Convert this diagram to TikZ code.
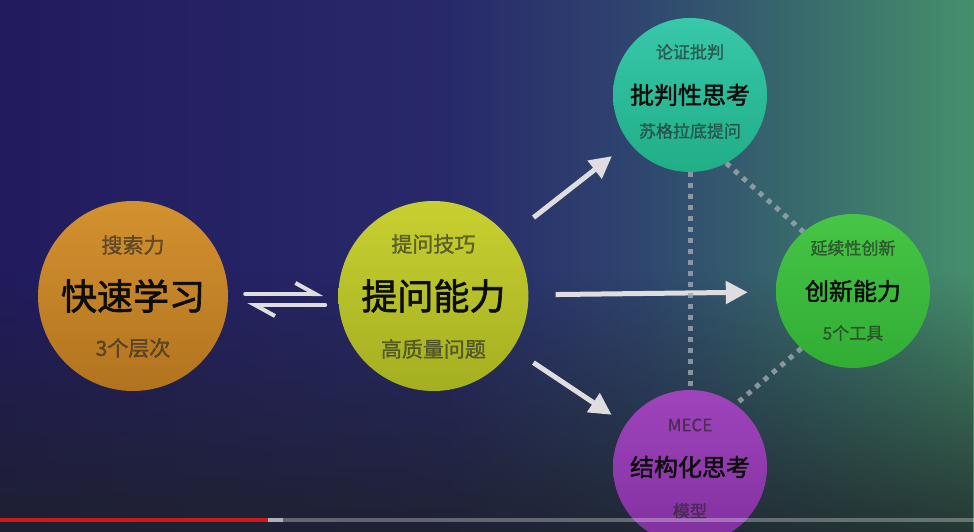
\documentclass[tikz,border=0pt]{standalone}
\usepackage{fontspec}
\setmainfont{Noto Sans CJK SC}
\newfontfamily\headfont{Noto Sans CJK SC}[FakeBold=1.8]
\newfontfamily\capfont{Noto Sans CJK SC}[FakeBold=1.3]
\usetikzlibrary{arrows.meta,positioning,fadings}
\definecolor{bgA}{HTML}{221B5E}
\definecolor{bgB}{HTML}{28296A}
\definecolor{bgC}{HTML}{2F466F}
\definecolor{bgD}{HTML}{386A6C}
\definecolor{bgE}{HTML}{46906C}
\definecolor{bgsink}{HTML}{1D2126}
\definecolor{arrowwhite}{HTML}{DEDEE0}
\definecolor{dotgrey}{HTML}{A0A8B0}
\definecolor{orangeT}{HTML}{D3922F}
\definecolor{orangeB}{HTML}{B2731F}
\definecolor{limeT}{HTML}{C8D030}
\definecolor{limeB}{HTML}{A4AF21}
\definecolor{tealT}{HTML}{38C8AA}
\definecolor{tealB}{HTML}{20AE87}
\definecolor{greenT}{HTML}{46C546}
\definecolor{greenB}{HTML}{31AD34}
\definecolor{purpleT}{HTML}{A044BC}
\definecolor{purpleB}{HTML}{80309F}
\definecolor{barred}{HTML}{D01818}
\pgfdeclarehorizontalshading{bgsweep}{100bp}{color(0bp)=(bgA); color(25bp)=(bgA);
  color(48bp)=(bgB); color(58bp)=(bgC); color(66bp)=(bgD); color(75bp)=(bgE); color(100bp)=(bgE)}

\begin{document}
\begin{tikzpicture}[
  x=1pt, y=-1pt,
  bigball/.style={circle, minimum size=190pt, inner sep=0pt,
    font=\headfont\fontsize{36}{36}\selectfont, text=black!95},
  smallball/.style={circle, minimum size=154pt, inner sep=0pt,
    font=\headfont\fontsize{24}{24}\selectfont, text=black!95},
  bigsub/.style={font=\capfont\fontsize{21}{21}\selectfont, text=black!85, text opacity=0.6,
    inner sep=0pt},
  smallsub/.style={font=\capfont\fontsize{17}{17}\selectfont, text=black!85, text opacity=0.6,
    inner sep=0pt},
  arr/.style={-{Triangle[length=22pt, width=22pt]}, line width=5pt, arrowwhite},
  harp/.style={-{Straight Barb[left, length=20pt, width=22pt]}, line width=4pt, arrowwhite,
    line cap=round},
  dots/.style={line width=5pt, dash pattern=on 5pt off 6pt, dotgrey, opacity=0.8},
]
\useasboundingbox (0,0) rectangle (974,532);
\clip (0,0) rectangle (974,532);
% background, dimmed towards the bottom
\shade[shading=bgsweep] (0,0) rectangle (974,532);
\fill[bgsink, path fading=north, opacity=0.8] (0,270) rectangle (974,532);

% circles
\node[bigball, top color=orangeT, bottom color=orangeB] (learn) at (133,296) {快速学习};
\node[bigball, top color=limeT, bottom color=limeB, right=110pt of learn] (ask) {提问能力};
\node[smallball, top color=tealT, bottom color=tealB] (crit) at (690,95) {批判性思考};
\node[smallball, top color=greenT, bottom color=greenB] (innov) at (853,291) {创新能力};
\node[smallball, top color=purpleT, bottom color=purpleB] (struct) at (690,467) {结构化思考};

% small captions
\node[bigsub] (learn-up) at ([yshift=51pt]learn.center) {搜索力};
\node[bigsub] (learn-down) at ([yshift=-52pt]learn.center) {3个层次};
\node[bigsub] (ask-up) at ([yshift=52pt]ask.center) {提问技巧};
\node[bigsub] (ask-down) at ([yshift=-53pt]ask.center) {高质量问题};
\node[smallsub] (crit-up) at ([yshift=43pt]crit.center) {论证批判};
\node[smallsub] (crit-down) at ([yshift=-36pt]crit.center) {苏格拉底提问};
\node[smallsub] (innov-up) at ([yshift=43pt]innov.center) {延续性创新};
\node[smallsub] (innov-down) at ([yshift=-42pt]innov.center) {5个工具};
\node[smallsub] (struct-up) at ([yshift=42pt]struct.center) {MECE};
\node[smallsub] (struct-down) at ([yshift=-44pt]struct.center) {模型};

% connectors
\draw[harp] ([shift={(17,-2)}]learn.east) -- ([shift={(-15,-2)}]ask.west);
\draw[harp] ([shift={(-13,9)}]ask.west) -- ([shift={(19,9)}]learn.east);
\draw[arr, shorten <=32pt, shorten >=22pt] (ask) -- (crit);
\draw[arr, shorten <=27pt, shorten >=28pt] (ask) -- (innov);
\draw[arr, shorten <=25pt, shorten >=17pt] (ask) -- (struct);
\draw[dots] (crit) -- (struct);
\draw[dots] (crit.-62) -- (innov.130);
\draw[dots] (innov.228) -- (struct.54);

% progress bar
\draw[line width=3.5pt, white, opacity=0.3] (0,520) -- (974,520);
\draw[line width=3.5pt, white, opacity=0.5] (268,520) -- (283,520);
\draw[line width=3.5pt, barred] (0,520) -- (268,520);
\end{tikzpicture}
\end{document}
